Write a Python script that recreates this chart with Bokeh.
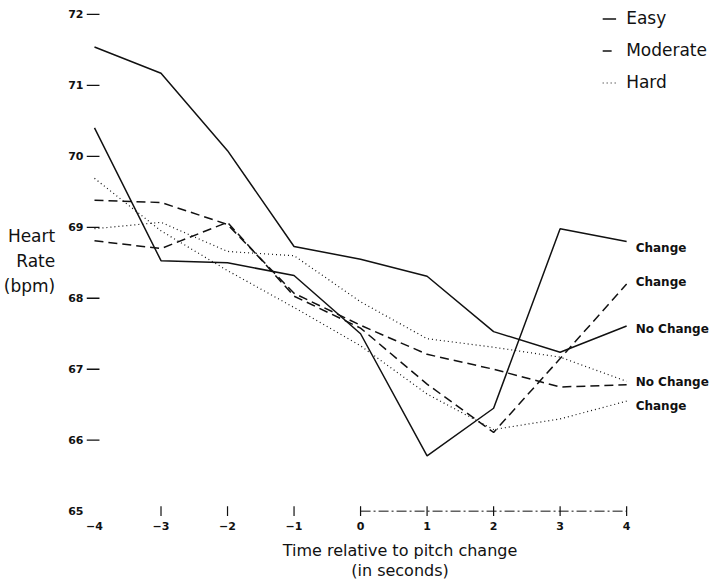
from bokeh.plotting import figure
from bokeh.models import FixedTicker, Range1d, Legend, LegendItem, ColumnDataSource
from bokeh.core.properties import value
from bokeh.embed import file_html
from bokeh.resources import INLINE

# ---------------- data ----------------
t = [-4, -3, -2, -1, 0, 1, 2, 3, 4]
easy_change = [70.40, 68.53, 68.50, 68.32, 67.50, 65.78, 66.45, 68.98, 68.80]
easy_no_change = [71.54, 71.17, 70.08, 68.73, 68.55, 68.31, 67.53, 67.24, 67.61]
moderate_change = [68.81, 68.70, 69.07, 68.03, 67.58, 66.79, 66.11, 67.15, 68.20]
moderate_no_change = [69.38, 69.35, 69.04, 68.07, 67.62, 67.21, 67.00, 66.75, 66.78]
hard_change = [69.69, 68.95, 68.39, 67.87, 67.33, 66.65, 66.15, 66.30, 66.55]
hard_no_change = [68.98, 69.07, 68.66, 68.60, 67.95, 67.43, 67.31, 67.17, 66.83]

y_ticks = [65, 66, 67, 68, 69, 70, 71, 72]
x_tick_labels = ["\u22124", "\u22123", "\u22122", "\u22121", "0", "1", "2", "3", "4"]
legend_names = ["Easy", "Moderate", "Hard"]
end_labels = ["Change", "Change", "No Change", "No Change", "Change"]
y_title = "Heart\n\u00a0\u2009Rate\n(bpm)"
x_title = "Time relative to pitch change\n(in seconds)"

FONT = "DejaVu Sans"
INK = "#111111"

# scale helpers (pixels per data unit)
PX_X = 66.625
PX_Y = 71.52

p = figure(width=715, height=583,
           x_range=Range1d(t[0] - 8 / PX_X, t[-1] + 87 / PX_X),
           y_range=Range1d(y_ticks[0] - 7.4 / PX_Y, y_ticks[-1] + 12 / PX_Y),
           output_backend="svg", toolbar_location=None,
           min_border_left=85, min_border_right=2, min_border_top=2, min_border_bottom=61)
p.grid.visible = False
p.outline_line_color = None

# x axis
xa = p.xaxis[0]
xa.ticker = FixedTicker(ticks=t)
xa.major_label_overrides = {tv: lab for tv, lab in zip(t, x_tick_labels)}
xa.axis_line_color = None
xa.major_tick_line_color = None
xa.minor_tick_line_color = None
xa.major_tick_out = 0
xa.major_tick_in = 0
xa.major_label_standoff = 3
xa.major_label_text_font = FONT
xa.major_label_text_font_style = "bold"
xa.major_label_text_font_size = "11px"
xa.major_label_text_color = INK
xa.axis_label = x_title
xa.axis_label_text_font = FONT
xa.axis_label_text_font_style = "normal"
xa.axis_label_text_font_size = "16px"
xa.axis_label_text_color = INK
xa.axis_label_text_line_height = 1.1
xa.axis_label_standoff = 8

# y axis
ya = p.yaxis[0]
ya.ticker = FixedTicker(ticks=y_ticks)
ya.axis_line_color = None
ya.major_tick_line_color = None
ya.minor_tick_line_color = None
ya.major_tick_out = 0
ya.major_tick_in = 0
ya.major_label_standoff = 3
ya.major_label_text_font = FONT
ya.major_label_text_font_style = "bold"
ya.major_label_text_font_size = "11px"
ya.major_label_text_color = INK
ya.axis_label = y_title
ya.axis_label_text_font = FONT
ya.axis_label_text_font_style = "normal"
ya.axis_label_text_font_size = "17px"
ya.axis_label_text_color = INK
ya.axis_label_text_line_height = 1.25
ya.axis_label_standoff = 10
try:
    ya.axis_label_orientation = "horizontal"
except Exception:
    pass

# y tick marks (66..72) straddling x = -4
yt = y_ticks[1:]
p.segment(x0=[t[0] - 8 / PX_X] * len(yt), x1=[t[0] + 5 / PX_X] * len(yt),
          y0=yt, y1=yt, line_color=INK, line_width=1.3)
# x tick marks (-3..4)
xt = t[1:]
p.segment(x0=xt, x1=xt, y0=[y_ticks[0] - 5 / PX_Y] * len(xt), y1=[y_ticks[0] + 5 / PX_Y] * len(xt),
          line_color=INK, line_width=1.2)
# x axis line from 0 to 4
p.line(x=[0, t[-1]], y=[y_ticks[0], y_ticks[0]], line_color=INK, line_width=1.0, line_dash="10 3 2 3")

# series
r_ec = p.line(t, easy_change, line_color=INK, line_width=1.5)
r_en = p.line(t, easy_no_change, line_color=INK, line_width=1.5)
r_mc = p.line(t, moderate_change, line_color=INK, line_width=1.5, line_dash="9 5")
r_mn = p.line(t, moderate_no_change, line_color=INK, line_width=1.5, line_dash="9 5")
r_hc = p.line(t, hard_change, line_color=INK, line_width=1.2, line_dash="1 3")
r_hn = p.line(t, hard_no_change, line_color=INK, line_width=1.2, line_dash="1 3")

# end-of-line labels
end_vals = [easy_change[-1], moderate_change[-1], easy_no_change[-1],
            (moderate_no_change[-1] + hard_no_change[-1]) / 2, hard_change[-1]]
lab_dy = [7, -2, 3, -1, 5]
src = ColumnDataSource(dict(x=[t[-1]] * len(end_labels), y=end_vals, text=end_labels, dy=lab_dy))
p.text(x="x", y="y", text="text", y_offset="dy", x_offset=9, source=src,
       text_font=value(FONT), text_font_style="bold", text_font_size="12px",
       text_color=INK, text_align="left", text_baseline="middle")

# legend
legend = Legend(items=[LegendItem(label=legend_names[0], renderers=[r_ec]),
                       LegendItem(label=legend_names[1], renderers=[r_mc]),
                       LegendItem(label=legend_names[2], renderers=[r_hc])],
                location="top_right", margin=6, padding=0, spacing=12,
                glyph_width=14, glyph_height=15, label_height=15, label_standoff=10,
                label_text_font=FONT, label_text_font_size="17px", label_text_color=INK,
                border_line_color=None, background_fill_alpha=0)
p.add_layout(legend)

open("out.html", "w").write(file_html(p, INLINE))
